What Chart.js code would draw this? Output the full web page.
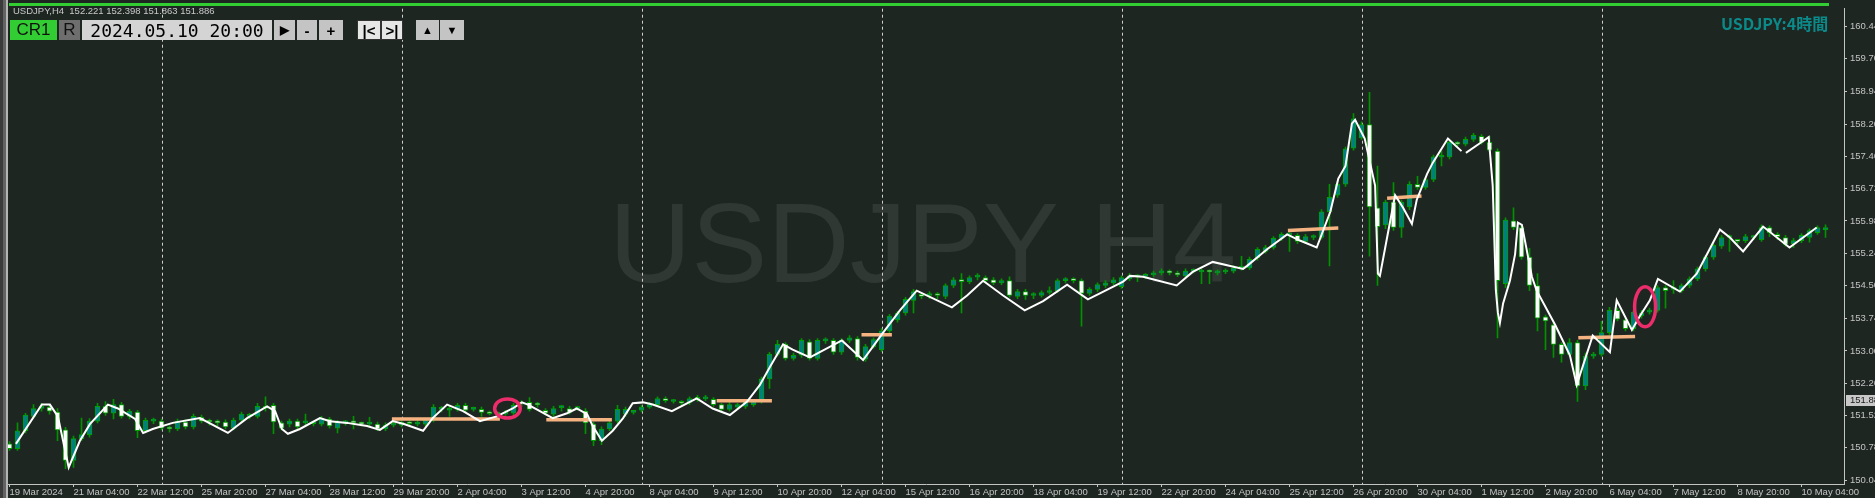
<!DOCTYPE html>
<html>
<head>
<meta charset="utf-8">
<title>USDJPY H4</title>
<script src="https://cdn.jsdelivr.net/npm/chart.js@4.4.1/dist/chart.umd.min.js"></script>
<style>
  html, body { margin: 0; padding: 0; background: #1e2622; overflow: hidden; }
  #wrap { position: relative; width: 1875px; height: 498px; }
  #chart { position: absolute; left: 0; top: 0; }
  .abs { position: absolute; }
  #frame { left: 0; top: 0; width: 8px; height: 498px;
    background: linear-gradient(to right, #3a3a3a 0 3px, #626262 3px 6px, #b4b4b4 6px 8px); }
  #greenbar { left: 9px; top: 3px; width: 1820px; height: 3px; background: #32cd32; }
  #info { left: 13px; top: 5px; font: 9.5px "Liberation Sans", sans-serif; color: #c8c8c8; white-space: pre; }
  .btn { position: absolute; top: 20px; height: 20px; box-sizing: border-box; display: flex;
    align-items: center; justify-content: center; color: #000; font-family: "Liberation Sans", sans-serif; }
  #cr1 { left: 10px; width: 47px; background: #32cd32; font-size: 17px; color: #111; }
  #rbtn { left: 59px; width: 21px; background: #6e6e6e; font-size: 17px; color: #111; }
  #date { left: 82px; width: 190px; background: #d4d4d4; font: 18px "DejaVu Sans Mono", monospace; }
  .gray { background: #c4c4c4; font-size: 15px; font-weight: bold; }
  #pair { left: 1721px; top: 11px; font: bold 16px "Noto Sans CJK JP", sans-serif; color: #0b8a8a; }
</style>
</head>
<body>
<div id="wrap">
  <canvas id="chart" width="1875" height="498"></canvas>
  <div id="frame" class="abs"></div>
  <div id="greenbar" class="abs"></div>
  <div id="info" class="abs">USDJPY,H4  152.221 152.398 151.863 151.886</div>
  <div id="cr1" class="btn">CR1</div>
  <div id="rbtn" class="btn">R</div>
  <div id="date" class="btn">2024.05.10 20:00</div>
  <div class="btn gray" style="left:274px;width:21px;font-size:12px">&#9654;</div>
  <div class="btn gray" style="left:297px;width:20px">-</div>
  <div class="btn gray" style="left:319px;width:24px">+</div>
  <div class="btn gray" style="left:357px;width:24px;background:#e6e6e6;border:1px solid #333">|&lt;</div>
  <div class="btn gray" style="left:381px;width:22px;background:#e6e6e6;border:1px solid #333">&gt;|</div>
  <div class="btn gray" style="left:416px;width:23px;font-size:11px">&#9650;</div>
  <div class="btn gray" style="left:440px;width:24px;font-size:11px">&#9660;</div>
  <div id="pair" class="abs">USDJPY:4時間</div>
</div>
<script>
// 4H candles, one row per bar: [open, high, low, close]
const candles = [
  [150.87,150.92,150.72,150.76],[150.76,151.35,150.72,151.17],[151.17,151.57,151.12,151.53],[151.50,151.77,151.46,151.68],
  [151.68,151.80,151.62,151.73],[151.71,151.77,151.55,151.62],[151.60,151.68,150.94,151.19],[151.19,151.25,150.30,150.49],
  [150.49,151.05,150.33,150.99],[150.99,151.46,150.94,151.08],[151.08,151.45,151.02,151.39],[151.39,151.80,151.35,151.73],
  [151.73,151.84,151.52,151.57],[151.57,151.89,151.44,151.77],[151.77,151.82,151.46,151.50],[151.50,151.66,151.44,151.62],
  [151.60,151.64,151.01,151.17],[151.17,151.46,151.12,151.41],[151.39,151.46,151.33,151.40],[151.39,151.44,151.19,151.23],
  [151.22,151.28,151.14,151.21],[151.21,151.44,151.17,151.39],[151.37,151.42,151.21,151.26],[151.26,151.55,151.21,151.50],
  [151.48,151.53,151.35,151.39],[151.38,151.44,151.30,151.37],[151.36,151.42,151.28,151.35],[151.37,151.42,151.21,151.26],
  [151.23,151.46,151.19,151.41],[151.41,151.60,151.37,151.55],[151.50,151.57,151.44,151.51],[151.50,151.80,151.46,151.73],
  [151.68,151.95,151.62,151.73],[151.75,151.80,151.10,151.37],[151.35,151.39,151.19,151.23],[151.32,151.44,151.26,151.39],
  [151.39,151.44,151.21,151.26],[151.35,151.55,151.30,151.36],[151.33,151.39,151.28,151.34],[151.32,151.50,151.28,151.46],
  [151.44,151.48,151.23,151.28],[151.23,151.41,151.12,151.37],[151.35,151.41,151.30,151.36],[151.36,151.50,151.21,151.35],
  [151.33,151.37,151.28,151.32],[151.32,151.48,151.28,151.33],[151.32,151.37,151.17,151.21],[151.21,151.35,151.17,151.30],
  [151.30,151.37,151.26,151.32],[151.30,151.41,151.26,151.37],[151.34,151.39,151.28,151.33],[151.32,151.41,151.28,151.37],
  [151.32,151.46,151.28,151.41],[151.41,151.77,151.37,151.71],[151.66,151.73,151.60,151.67],[151.64,151.73,151.50,151.68],
  [151.66,151.80,151.62,151.75],[151.75,151.80,151.60,151.64],[151.66,151.71,151.62,151.67],[151.66,151.71,151.50,151.59],
  [151.58,151.62,151.53,151.56],[151.55,151.60,151.50,151.56],[151.55,151.64,151.52,151.59],[151.57,151.80,151.53,151.75],
  [151.78,151.86,151.73,151.80],[151.82,151.93,151.62,151.66],[151.77,151.82,151.71,151.76],[151.64,151.68,151.53,151.57],
  [151.55,151.73,151.50,151.68],[151.70,151.75,151.62,151.71],[151.68,151.73,151.55,151.59],[151.68,151.73,151.64,151.69],
  [151.62,151.68,151.10,151.35],[151.32,151.37,150.83,150.94],[150.94,151.26,150.85,151.21],[151.21,151.39,151.17,151.35],
  [151.39,151.75,151.35,151.66],[151.55,151.71,151.50,151.66],[151.59,151.64,151.55,151.60],[151.64,151.75,151.60,151.71],
  [151.71,151.82,151.68,151.77],[151.77,151.95,151.73,151.91],[151.91,151.95,151.82,151.86],[151.84,151.89,151.80,151.85],
  [151.82,151.86,151.77,151.80],[151.82,151.95,151.77,151.91],[151.89,151.98,151.84,151.90],[151.90,151.98,151.86,151.91],
  [151.89,151.93,151.73,151.77],[151.77,151.80,151.62,151.66],[151.66,151.82,151.62,151.77],[151.71,151.80,151.68,151.77],
  [151.73,151.86,151.68,151.82],[151.77,151.89,151.73,151.84],[151.84,152.40,151.80,152.36],[152.36,152.97,152.14,152.92],
  [152.92,153.24,152.88,153.15],[153.15,153.19,152.79,152.83],[152.83,152.95,152.79,152.90],[152.90,153.28,152.85,153.24],
  [153.21,153.26,152.79,152.83],[152.83,153.28,152.79,153.24],[153.23,153.30,153.17,153.24],[153.24,153.28,152.92,152.97],
  [152.97,153.28,152.92,153.24],[153.24,153.35,153.19,153.30],[153.28,153.33,152.79,152.85],[152.81,153.15,152.76,153.10],
  [153.10,153.30,153.06,153.26],[153.03,153.51,152.99,153.46],[153.46,153.84,153.42,153.80],[153.71,153.91,153.66,153.87],
  [153.87,154.23,153.82,154.18],[154.16,154.41,153.87,154.36],[154.27,154.30,154.20,154.25],[154.27,154.36,154.20,154.28],
  [154.28,154.34,154.20,154.27],[154.25,154.54,154.20,154.50],[154.50,154.68,154.45,154.63],[154.61,154.77,153.87,154.59],
  [154.59,154.72,154.54,154.68],[154.69,154.77,154.63,154.70],[154.68,154.72,154.56,154.61],[154.63,154.68,154.52,154.56],
  [154.56,154.65,154.52,154.61],[154.61,154.70,154.23,154.27],[154.25,154.41,154.20,154.36],[154.36,154.41,154.18,154.27],
  [154.27,154.34,154.20,154.28],[154.27,154.38,154.23,154.34],[154.34,154.47,154.30,154.36],[154.38,154.65,154.34,154.61],
  [154.61,154.68,154.56,154.62],[154.62,154.68,154.56,154.61],[154.61,154.65,153.57,154.32],[154.32,154.45,154.27,154.41],
  [154.41,154.56,154.36,154.52],[154.50,154.61,154.45,154.56],[154.56,154.68,154.52,154.63],[154.47,154.72,154.43,154.68],
  [154.65,154.77,154.61,154.72],[154.70,154.75,154.59,154.71],[154.71,154.77,154.66,154.72],[154.74,154.83,154.70,154.79],
  [154.79,154.88,154.74,154.83],[154.83,154.86,154.74,154.79],[154.79,154.83,154.70,154.74],[154.72,154.88,154.68,154.83],
  [154.83,154.88,154.79,154.84],[154.81,154.88,154.54,154.82],[154.82,154.86,154.54,154.81],[154.79,154.86,154.74,154.81],
  [154.81,154.88,154.77,154.83],[154.83,154.95,154.79,154.90],[154.90,155.17,154.85,154.91],[154.90,155.15,154.86,155.10],
  [155.13,155.37,155.08,155.33],[155.28,155.42,155.24,155.37],[155.37,155.62,155.33,155.58],[155.58,155.71,155.53,155.67],
  [155.66,155.71,155.28,155.67],[155.65,155.69,155.46,155.51],[155.51,155.67,155.46,155.62],[155.60,155.66,155.55,155.61],
  [155.60,156.24,155.56,156.19],[156.19,156.82,154.95,156.52],[156.57,156.88,156.52,156.82],[156.82,157.67,156.77,157.63],
  [157.65,158.44,157.60,158.32],[157.88,158.25,157.85,158.19],[158.19,158.93,155.17,156.30],[156.28,157.24,154.50,155.85],
  [155.89,156.46,155.80,156.41],[156.41,156.86,155.76,155.83],[155.83,156.46,155.60,156.41],[156.30,156.88,156.24,156.82],
  [156.82,157.00,156.70,156.75],[156.75,156.97,156.70,156.93],[156.93,157.49,156.88,157.45],[157.44,157.58,157.24,157.45],
  [157.45,157.83,157.40,157.78],[157.76,157.80,157.70,157.74],[157.74,157.90,157.70,157.85],[157.85,157.99,157.80,157.94],
  [157.92,157.96,157.74,157.78],[157.78,157.92,157.56,157.60],[157.58,157.63,153.30,154.61],[154.54,156.05,154.45,156.00],
  [155.98,156.28,155.78,155.83],[155.83,155.87,155.10,155.15],[155.15,155.35,154.38,154.50],[154.50,154.77,153.46,153.75],
  [153.78,153.82,153.03,153.69],[153.60,153.64,152.85,153.15],[153.15,153.19,152.74,152.92],[152.92,153.28,152.88,153.19],
  [153.19,153.24,151.84,152.20],[152.20,152.95,152.11,152.88],[152.88,152.97,152.83,152.92],[152.92,153.68,152.88,153.42],
  [153.42,154.00,153.37,153.93],[153.93,153.98,153.69,153.73],[153.71,153.75,153.46,153.51],[153.51,153.93,153.46,153.89],
  [153.80,153.93,153.75,153.87],[153.89,153.98,153.84,153.93],[153.93,154.50,153.89,154.45],[154.45,154.50,153.98,154.38],
  [154.41,154.61,154.32,154.42],[154.38,154.54,154.34,154.50],[154.50,154.70,154.45,154.65],[154.65,154.92,154.61,154.88],
  [154.88,155.19,154.83,155.15],[155.15,155.46,155.10,155.42],[155.40,155.65,155.35,155.60],[155.60,155.66,155.28,155.61],
  [155.52,155.56,155.46,155.51],[155.53,155.67,155.48,155.62],[155.60,155.65,155.55,155.61],[155.55,155.89,155.51,155.83],
  [155.83,155.87,155.62,155.71],[155.67,155.71,155.55,155.62],[155.60,155.65,155.40,155.44],[155.46,155.58,155.37,155.53],
  [155.53,155.69,155.48,155.65],[155.60,155.80,155.49,155.76],[155.71,155.87,155.67,155.83],[155.78,155.89,155.60,155.79]
];

// hand drawn white line: [bar, price], null price = break
const trendPoints = [
  [0.8,150.87],[4.05,151.77],[5.05,151.77],[6.05,151.50],[7.4,150.33],[8.8,150.94],[10.05,151.32],[12.3,151.77],
  [13.55,151.68],[15.7,151.44],[16.7,151.12],[17.9,151.21],[20.4,151.35],[23.8,151.46],[27.3,151.12],[29.7,151.46],
  [32.2,151.73],[33.2,151.62],[34.05,151.21],[34.8,151.10],[36.3,151.21],[38.8,151.46],[40.05,151.39],[42.2,151.35],
  [44.7,151.28],[46.3,151.19],[47.9,151.39],[49.4,151.32],[51.7,151.17],[52.9,151.46],[54.7,151.77],[56.7,151.62],
  [58.8,151.39],[60.9,151.50],[62.9,151.68],[64.05,151.82],[64.8,151.77],[65.9,151.66],[67.9,151.46],[69.7,151.57],
  [70.9,151.68],[72.2,151.55],[72.9,151.28],[74.05,150.94],[75.4,151.17],[76.7,151.46],[77.9,151.80],[79.2,151.82],
  [80.4,151.77],[82.8,151.62],[85.9,151.91],[87.9,151.68],[90.05,151.53],[92.2,151.84],[93.8,152.22],[95.05,152.63],
  [96.7,153.15],[97.9,153.03],[100.05,152.85],[104.05,153.24],[106.7,152.79],[109.2,153.42],[111.3,153.93],[113.4,154.38],
  [117.8,154.00],[119.7,154.27],[121.7,154.61],[124.2,154.27],[126.9,153.93],[129.2,154.14],[132.2,154.52],[134.8,154.18],
  [136.3,154.32],[139.2,154.59],[140.05,154.72],[141.7,154.70],[145.9,154.50],[147.9,154.81],[150.4,155.04],[154.2,154.88],
  [154.7,154.95],[157.2,155.33],[159.7,155.67],[161.3,155.53],[163.4,155.37],[165.1,156.19],[166.1,156.95],[167.0,157.24],
  [167.8,158.21],[168.2,158.30],[169.4,157.87],[170.7,156.79],[171.05,154.77],[171.3,154.72],[172.2,155.60],[173.2,156.57],
  [174.2,156.28],[175.3,155.91],[175.9,156.46],[177.2,157.06],[177.9,157.31],[179.8,157.87],[181.5,157.58],[181.8,null],
  [182.05,157.54],[183.8,157.76],[184.9,157.90],[185.4,156.79],[185.8,154.38],[186.05,153.87],[186.3,153.64],[186.7,154.09],
  [187.55,154.61],[188.2,155.22],[188.55,155.94],[189.05,155.89],[190.3,154.70],[190.9,154.38],[193.2,153.60],[195.05,152.90],
  [195.9,152.22],[197.9,153.35],[200.05,152.97],[200.9,154.16],[202.8,153.48],[203.8,153.80],[205.05,154.16],[206.05,154.65],
  [208.8,154.36],[210.9,154.77],[212.2,155.22],[213.8,155.78],[215.05,155.60],[216.7,155.28],[219.2,155.85],[222.5,155.37],
  [225.9,155.83]
];

// orange horizontal levels: [startBar, startPrice, endBar, endPrice]
const levelSegments = [
  [47.8,151.44,61.3,151.44],[67.1,151.42,75.3,151.42],[88.4,151.86,95.3,151.86],[106.5,153.37,110.3,153.37],
  [159.8,155.76,166.1,155.82],[172.2,156.50,176.5,156.55],[196.1,153.30,203.2,153.33]
];

// pink ellipse marks: [bar, price]
const markerCenters = [[62.24,151.68],[204.45,154.01]];

const weekStartBars = [19, 49, 79, 109, 139, 169, 199];

const xTickBars = [0,8,16,24,32,40,48,56,64,72,80,88,96,104,112,120,128,136,144,152,160,168,176,184,192,200,208,216,224];
const xTickLabels = ['19 Mar 2024','21 Mar 04:00','22 Mar 12:00','25 Mar 20:00','27 Mar 04:00','28 Mar 12:00',
  '29 Mar 20:00','2 Apr 04:00','3 Apr 12:00','4 Apr 20:00','8 Apr 04:00','9 Apr 12:00','10 Apr 20:00',
  '12 Apr 04:00','15 Apr 12:00','16 Apr 20:00','18 Apr 04:00','19 Apr 12:00','22 Apr 20:00','24 Apr 04:00',
  '25 Apr 12:00','26 Apr 20:00','30 Apr 04:00','1 May 12:00','2 May 20:00','6 May 04:00','7 May 12:00',
  '8 May 20:00','10 May 04:00'];
const yTickValues = [150.04,150.78,151.52,152.26,153.00,153.74,154.50,155.24,155.98,156.72,157.46,158.20,158.94,159.70,160.44];
const lastPrice = 151.886;

const BG = '#1e2622';
const AXIS = '#c4c4c4';
const TEAL = '#008080';
const EDGE = '#00a000';
const axisFont = { family: 'Liberation Sans', size: 9.5 };

const bodyData = candles.map((c, i) => ({ x: i, y: [c[0], c[3]] }));
const wickData = candles.map((c, i) => ({ x: i, y: [c[2], c[1]] }));
const bodyColors = candles.map(c => c[3] > c[0] ? TEAL : '#ffffff');

const trendData = trendPoints.map(p => ({ x: p[0], y: p[1] }));
const levelData = [];
levelSegments.forEach(s => {
  levelData.push({ x: s[0], y: s[1] }, { x: s[2], y: s[3] }, { x: s[2], y: null });
});

const backdrop = {
  id: 'backdrop',
  beforeDatasetsDraw(chart) {
    const { ctx, chartArea, scales } = chart;
    ctx.save();
    ctx.fillStyle = '#303834';
    ctx.font = '114px "Liberation Sans"';
    ctx.textBaseline = 'alphabetic';
    ctx.fillText('USDJPY H4', 609, 282);
    ctx.strokeStyle = '#d0d0d0';
    ctx.lineWidth = 1;
    ctx.setLineDash([3, 3]);
    weekStartBars.forEach(b => {
      const x = Math.round(scales.x.getPixelForValue(b)) + 0.5;
      ctx.beginPath();
      ctx.moveTo(x, chartArea.top);
      ctx.lineTo(x, chartArea.bottom);
      ctx.stroke();
    });
    ctx.restore();
  }
};

const marks = {
  id: 'marks',
  afterDatasetsDraw(chart) {
    const { ctx, scales } = chart;
    const radii = [[12.8, 9.6], [10.5, 20]];
    ctx.save();
    ctx.strokeStyle = '#ec2d6c';
    ctx.lineWidth = 3.5;
    markerCenters.forEach((m, i) => {
      ctx.beginPath();
      ctx.ellipse(scales.x.getPixelForValue(m[0]), scales.y.getPixelForValue(m[1]), radii[i][0], radii[i][1], 0, 0, Math.PI * 2);
      ctx.stroke();
    });
    ctx.restore();
  },
  afterDraw(chart) {
    const { ctx, scales } = chart;
    const y = scales.y.getPixelForValue(lastPrice);
    ctx.save();
    ctx.fillStyle = '#c8c8c8';
    ctx.fillRect(scales.y.left + 2, Math.round(y) - 5, 40, 11);
    ctx.fillStyle = '#1a1a1a';
    ctx.font = '9.5px "Liberation Sans"';
    ctx.textBaseline = 'middle';
    ctx.fillText(lastPrice.toFixed(3), scales.y.left + 6, y + 0.5);
    ctx.restore();
  }
};

new Chart(document.getElementById('chart'), {
  type: 'bar',
  data: {
    datasets: [
      { type: 'line', label: 'line', data: trendData, borderColor: '#ffffff', borderWidth: 2,
        pointRadius: 0, spanGaps: false, order: 0 },
      { type: 'line', label: 'levels', data: levelData, borderColor: '#f5b382', borderWidth: 3.5,
        pointRadius: 0, spanGaps: false, order: 0 },
      { label: 'body', data: bodyData, backgroundColor: bodyColors, borderColor: EDGE, borderWidth: 1,
        borderSkipped: false, barThickness: 5, minBarLength: 2, grouped: false, order: 1 },
      { label: 'wick', data: wickData, backgroundColor: '#009200', barThickness: 1, minBarLength: 1,
        grouped: false, order: 2 }
    ]
  },
  options: {
    responsive: false,
    animation: false,
    devicePixelRatio: 1,
    events: [],
    layout: { padding: { left: 8, top: 0, right: 0, bottom: 0 } },
    plugins: { legend: { display: false }, tooltip: { enabled: false } },
    scales: {
      x: {
        type: 'linear', offset: false, min: -0.1875, max: 229.3125,
        afterBuildTicks: s => { s.ticks = xTickBars.map(v => ({ value: v })); },
        afterFit: s => { s.height = 14; },
        ticks: { align: 'start', color: AXIS, font: axisFont, padding: 0, maxRotation: 0, autoSkip: false,
          callback: (v, i) => xTickLabels[i] },
        grid: { drawOnChartArea: false, offset: false, tickLength: 3, color: AXIS },
        border: { color: AXIS }
      },
      y: {
        position: 'right', min: 149.949, max: 160.845,
        afterBuildTicks: s => { s.ticks = yTickValues.map(v => ({ value: v })); },
        afterFit: s => { s.width = 31; },
        ticks: { color: AXIS, font: axisFont, padding: 3, autoSkip: false, callback: v => v.toFixed(2) },
        grid: { drawOnChartArea: false, tickLength: 3, color: AXIS },
        border: { color: AXIS }
      }
    }
  },
  plugins: [backdrop, marks]
});
</script>
</body>
</html>
